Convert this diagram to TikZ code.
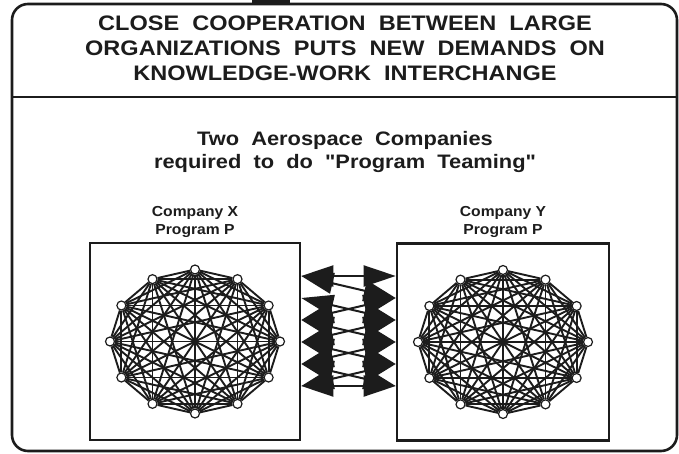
\documentclass[tikz,border=0pt]{standalone}
\usepackage{fontspec}
\setmainfont{Liberation Sans}
\newfontfamily\slidefont{Liberation Sans}[FakeStretch=1.12, WordSpace=2]
\newfontfamily\labelfont{Liberation Sans}[FakeStretch=1.08]
\usetikzlibrary{arrows.meta, positioning, backgrounds}
\definecolor{ink}{RGB}{28, 28, 28}

\begin{document}
\begin{tikzpicture}[
    x=1pt, y=-1pt,
    ttl/.style   = {font=\slidefont\fontsize{21}{25}\selectfont\bfseries, text=ink, align=center},
    sub/.style   = {font=\slidefont\fontsize{19.5}{23}\selectfont\bfseries, text=ink, align=center},
    coname/.style= {font=\labelfont\fontsize{14.5}{18}\selectfont\bfseries, text=ink, align=center},
    prog/.style  = {draw=ink, line width=2.6pt, minimum width=210pt, minimum height=197pt},
    hub/.style   = {circle, draw=ink, fill=white, line width=1.2pt, inner sep=0pt, minimum size=9pt},
    mesh/.style  = {draw=ink, line width=1.9pt},
    xchg/.style  = {draw=ink, line width=2pt,
                    {Triangle[length=32pt, width=21pt]}-{Triangle[length=32pt, width=21pt]}},
  ]
    \useasboundingbox (0,0) rectangle (679,454);

    % slide frame
    \draw[ink, line width=2.6pt, rounded corners=16pt] (12,4) rectangle (677,451);
    \draw[ink, line width=2.6pt] (12,97) -- (677,97);
    \fill[ink] (252,0) rectangle (290,5);

    % --- texts ---
    \node[ttl] (title) at (345,48)
      {CLOSE COOPERATION BETWEEN LARGE\\ORGANIZATIONS PUTS NEW DEMANDS ON\\KNOWLEDGE-WORK INTERCHANGE};
    \node[sub] (teaming) at (345,152)
      {Two Aerospace Companies\\required to do "Program Teaming"};

    % --- program boxes ---
    \node[prog] (boxX) at (195,341.5) {};
    \node[prog, minimum width=212pt] (boxY) at (503,342) {};
    \node[coname, above=1pt of boxX] (nameX) {Company X\\Program P};
    \node[coname, above=1pt of boxY] (nameY) {Company Y\\Program P};

    % --- knowledge networks ---
    \foreach \i in {1,...,12} {
      \node[hub] (x\i) at ([shift={({90+30*\i}:85 and 72)}]boxX.center) {};
      \node[hub] (y\i) at ([shift={({90+30*\i}:85 and 72)}]boxY.center) {};
    }
    \begin{scope}[on background layer]
      \foreach \i in {1,...,11} {
        \pgfmathtruncatemacro\nxt{\i+1}
        \foreach \j in {\nxt,...,12} {
          \draw[mesh] (x\i) -- (x\j);
          \draw[mesh] (y\i) -- (y\j);
        }
      }
    \end{scope}

    % --- interchange arrows ---
    \foreach \k/\yy in {1/276, 2/298, 3/320, 4/342, 5/364, 6/386} {
      \coordinate (l\k) at (boxX.east |- 0,\yy);
      \coordinate (r\k) at (boxY.west |- 0,\yy);
    }
    \foreach \a/\b in {1/1, 1/2, 2/3, 3/2, 3/4, 4/3, 4/5, 5/4, 6/6, 5/6, 6/5}
      \draw[xchg] (l\a) -- (r\b);

  \end{tikzpicture}
\end{document}
